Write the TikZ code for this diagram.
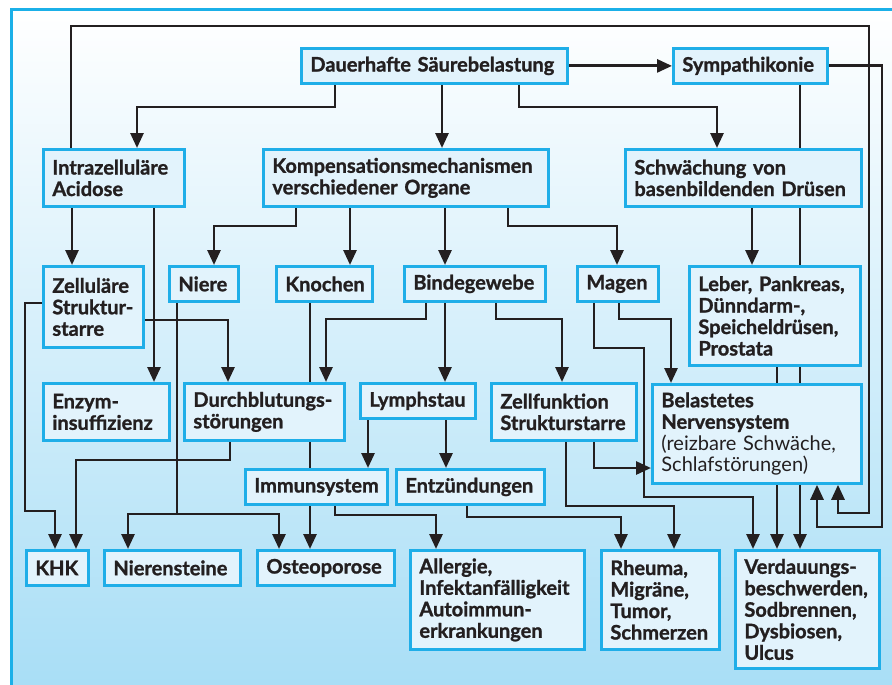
\documentclass[tikz,border=0pt]{standalone}
\usepackage{fontspec}
\setmainfont{Lato}[BoldFeatures={FakeBold=1.2}]
\usetikzlibrary{arrows.meta}
\definecolor{framec}{RGB}{27,176,232}
\definecolor{boxc}{RGB}{31,174,232}
\definecolor{boxfill}{RGB}{226,243,252}
\definecolor{ink}{RGB}{35,31,32}
\definecolor{bgbot}{RGB}{168,222,246}
\pgfdeclarelayer{bg}
\pgfdeclarelayer{lines}
\pgfsetlayers{bg,lines,main}
\hyphenpenalty=10000
\exhyphenpenalty=10000
\tikzset{
  box/.style={draw=boxc, fill=boxfill, line width=2.8pt, anchor=north west,
    align=left, inner xsep=9pt, inner ysep=1pt, text=ink,
    font=\bfseries\fontsize{20}{21.5}\selectfont},
  arr/.style={draw=ink, line width=2.8pt, -{Triangle[length=15pt,width=13pt]}},
  ln/.style={draw=ink, line width=2.8pt}
}
\begin{document}
\begin{tikzpicture}[x=1pt,y=-1pt]
\useasboundingbox (0,0) rectangle (892,685);
\clip (0,0) rectangle (892,685);
\begin{pgfonlayer}{bg}
\fill[white] (0,0) rectangle (892,685);
\shade[top color=white, bottom color=bgbot] (11,10) rectangle (900,690);
\draw[framec, line width=3pt] (11,10) rectangle (905,700);
\end{pgfonlayer}

% nodes
\node[box, minimum width=266pt, minimum height=35pt, text width=248pt] (dauer) at (300,47) {Dauerhafte Säurebelastung};
\node[box, minimum width=154pt, minimum height=35pt, text width=136pt] (symp) at (672,47) {Sympathikonie};
\node[box, minimum width=141pt, minimum height=57pt, text width=123pt] (acid) at (42,148) {Intrazelluläre\\Acidose};
\node[box, minimum width=285pt, minimum height=57pt, text width=267pt] (komp) at (262,148) {Kompensationsmechanismen\\verschiedener Organe};
\node[box, minimum width=236pt, minimum height=57pt, text width=218pt] (schw) at (624,148) {Schwächung von\\basenbildenden Drüsen};
\node[box, minimum width=100pt, minimum height=81pt, text width=82pt] (zell) at (42,265) {Zelluläre\\Struktur-\\starre};
\node[box, minimum width=69pt, minimum height=35pt, text width=51pt] (niere) at (168,265) {Niere};
\node[box, minimum width=96pt, minimum height=35pt, text width=78pt] (knoch) at (275,265) {Knochen};
\node[box, minimum width=141pt, minimum height=35pt, text width=123pt] (binde) at (403,265) {Bindegewebe};
\node[box, minimum width=81pt, minimum height=35pt, text width=63pt] (magen) at (576,265) {Magen};
\node[box, minimum width=171pt, minimum height=99pt, text width=153pt] (leber) at (688,265) {Leber, Pankreas,\\Dünndarm-,\\Speicheldrüsen,\\Prostata};
\node[box, minimum width=126pt, minimum height=57pt, text width=108pt] (enzym) at (42,382) {Enzym-\\insuffizienz};
\node[box, minimum width=160pt, minimum height=57pt, text width=142pt] (durch) at (183,382) {Durchblutungs-\\störungen};
\node[box, minimum width=115pt, minimum height=35pt, text width=97pt] (lymph) at (359,382) {Lymphstau};
\node[box, minimum width=145pt, minimum height=57pt, text width=127pt] (zfunk) at (490,382) {Zellfunktion\\Strukturstarre};
\node[box, minimum width=209pt, minimum height=99pt, text width=191pt] (nerv) at (651,383) {Belastetes\\Nervensystem\\\mdseries(reizbare Schwäche,\\Schlafstörungen)};
\node[box, minimum width=142pt, minimum height=35pt, text width=124pt] (immun) at (244,468) {Immunsystem};
\node[box, minimum width=148pt, minimum height=35pt, text width=130pt] (entz) at (395,468) {Entzündungen};
\node[box, minimum width=62pt, minimum height=35pt, text width=44pt] (khk) at (25,549) {KHK};
\node[box, minimum width=136pt, minimum height=35pt, text width=118pt] (nstein) at (103,549) {Nierensteine};
\node[box, minimum width=137pt, minimum height=35pt, text width=119pt] (osteo) at (256,549) {Osteoporose};
\node[box, minimum width=174pt, minimum height=99pt, text width=156pt] (allerg) at (409,549) {Allergie,\\Infektanfälligkeit\\Autoimmun-\\erkrankungen};
\node[box, minimum width=118pt, minimum height=99pt, text width=100pt] (rheuma) at (600,549) {Rheuma,\\Migräne,\\Tumor,\\Schmerzen};
\node[box, minimum width=144pt, minimum height=118pt, text width=126pt] (verd) at (734,549) {Verdauungs-\\beschwerden,\\Sodbrennen,\\Dysbiosen,\\Ulcus};

\begin{pgfonlayer}{lines}
\draw[arr] (dauer.east) -- (symp.west);
\draw[arr] (dauer.south -| 335,0) |- (137,107) -- (acid.north -| 137,0);
\draw[arr] (dauer.south -| 442,0) -- (komp.north -| 442,0);
\draw[arr] (dauer.south -| 519,0) |- (717,107) -- (schw.north -| 717,0);
\draw[arr] (acid.north -| 71,0) |- (869,26) |- (838,513) -- (nerv.south -| 838,0);
\draw[arr] (symp.east) -| (882,527) -| (nerv.south -| 817,0);
\draw[arr] (symp.south -| 800,0) -- (verd.north -| 800,0);
\draw[arr] (acid.south -| 72,0) -- (zell.north -| 72,0);
\draw[arr] (acid.south -| 154,0) -- (enzym.north -| 154,0);
\draw[arr] (komp.south -| 296,0) |- (214,226) -- (niere.north -| 214,0);
\draw[arr] (komp.south -| 350,0) -- (knoch.north -| 350,0);
\draw[arr] (komp.south -| 445,0) -- (binde.north -| 445,0);
\draw[arr] (komp.south -| 508,0) |- (617,226) -- (magen.north -| 617,0);
\draw[arr] (schw.south -| 752,0) -- (leber.north -| 752,0);
\draw[arr] (leber.south -| 777,0) -- (verd.north -| 777,0);
\draw[arr] (magen.south -| 619,0) |- (671,319) -- (nerv.north -| 671,0);
\draw[arr] (magen.south -| 594,0) |- (644,348) |- (753,497) -- (verd.north -| 753,0);
\draw[arr] (zell.west |- 0,303) -| (25,511) -| (khk.north -| 55,0);
\draw[arr] (zell.east |- 0,320) -| (durch.north -| 228,0);
\coordinate (nj) at (177,514);
\draw[arr] (niere.south -| 177,0) |- (128,514) -- (nstein.north -| 128,0);
\draw[arr] (nj) -| (osteo.north -| 279,0);
\draw[arr] (knoch.south -| 310,0) -- (osteo.north -| 310,0);
\draw[arr] (binde.south -| 426,0) |- (326,319) -- (durch.north -| 326,0);
\draw[arr] (binde.south -| 445,0) -- (lymph.north -| 445,0);
\draw[arr] (binde.south -| 496,0) |- (562,319) -- (zfunk.north -| 562,0);
\draw[arr] (durch.south -| 230,0) |- (76,460) -- (khk.north -| 76,0);
\draw[arr] (lymph.south -| 368,0) -- (immun.north -| 368,0);
\draw[arr] (lymph.south -| 446,0) -- (entz.north -| 446,0);
\draw[arr] (immun.south -| 335,0) |- (436,515) -- (allerg.north -| 436,0);
\draw[arr] (entz.south -| 467,0) |- (621,517) -- (rheuma.north -| 621,0);
\draw[arr] (zfunk.south -| 566,0) |- (674,506) -- (rheuma.north -| 674,0);
\draw[arr] (zfunk.south -| 594,0) |- (nerv.west |- 0,468);
\end{pgfonlayer}
\end{tikzpicture}
\end{document}
